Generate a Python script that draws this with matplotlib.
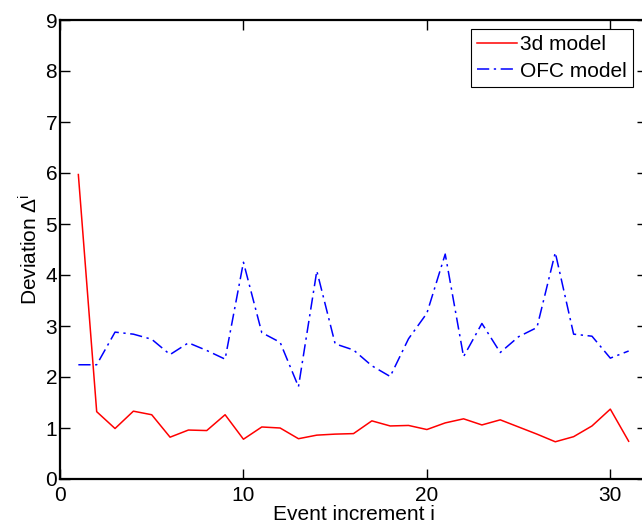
import matplotlib
matplotlib.use("Agg")
import matplotlib.pyplot as plt

plt.rcParams['font.family'] = ['Liberation Sans', 'DejaVu Sans']
plt.rcParams['mathtext.fontset'] = 'custom'
plt.rcParams['mathtext.rm'] = 'Liberation Sans'
plt.rcParams['mathtext.it'] = 'Liberation Sans'

event = list(range(1, 32))
model_3d = [5.97, 1.32, 0.99, 1.33, 1.26, 0.82, 0.96, 0.95, 1.26, 0.78,
            1.02, 1.00, 0.79, 0.86, 0.88, 0.89, 1.14, 1.04, 1.05, 0.97,
            1.10, 1.18, 1.06, 1.16, 1.02, 0.88, 0.73, 0.83, 1.04, 1.37, 0.74]
model_ofc = [2.24, 2.24, 2.88, 2.84, 2.74, 2.44, 2.67, 2.52, 2.35, 4.25,
             2.87, 2.68, 1.81, 4.08, 2.65, 2.53, 2.22, 2.01, 2.75, 3.25,
             4.41, 2.40, 3.05, 2.48, 2.79, 2.97, 4.44, 2.84, 2.80, 2.37, 2.51]
labels = ['3d model', 'OFC model']
xticks = [0, 10, 20, 30]
yticks = list(range(0, 10))

fig = plt.figure(figsize=(6.42, 5.25), dpi=100)
ax = fig.add_axes([60/642, 46/525, 587/642, 459/525])

ax.plot(event, model_3d, color='#ff0000', lw=1.1, label=labels[0])
ax.plot(event, model_ofc, color='#0000ff', lw=1.1, dashes=(8, 3, 1.5, 3), label=labels[1])

ax.set_xlim(0, 32)
ax.set_ylim(0, 9)
ax.set_xticks(xticks)
ax.set_yticks(yticks)
ax.tick_params(direction='in', top=True, right=True, length=7, width=1,
               labelsize=15, pad=2)
ax.tick_params(axis='x', pad=5)
for s in ax.spines.values():
    s.set_linewidth(1.6)

ax.set_xlabel('Event increment i', fontsize=15, labelpad=0)
ax.set_ylabel(r'Deviation $\Delta^{i}$', fontsize=15, labelpad=3)

leg = ax.legend(loc='upper right', bbox_to_anchor=((633 - 60)/587, 1 - 9/459),
                fontsize=15, frameon=True, fancybox=False, edgecolor='black',
                framealpha=1, handlelength=1.9, handletextpad=0.15,
                borderpad=0.3, labelspacing=0.35, borderaxespad=0)
leg.get_frame().set_linewidth(0.8)

fig.savefig('out.png', dpi=100)
